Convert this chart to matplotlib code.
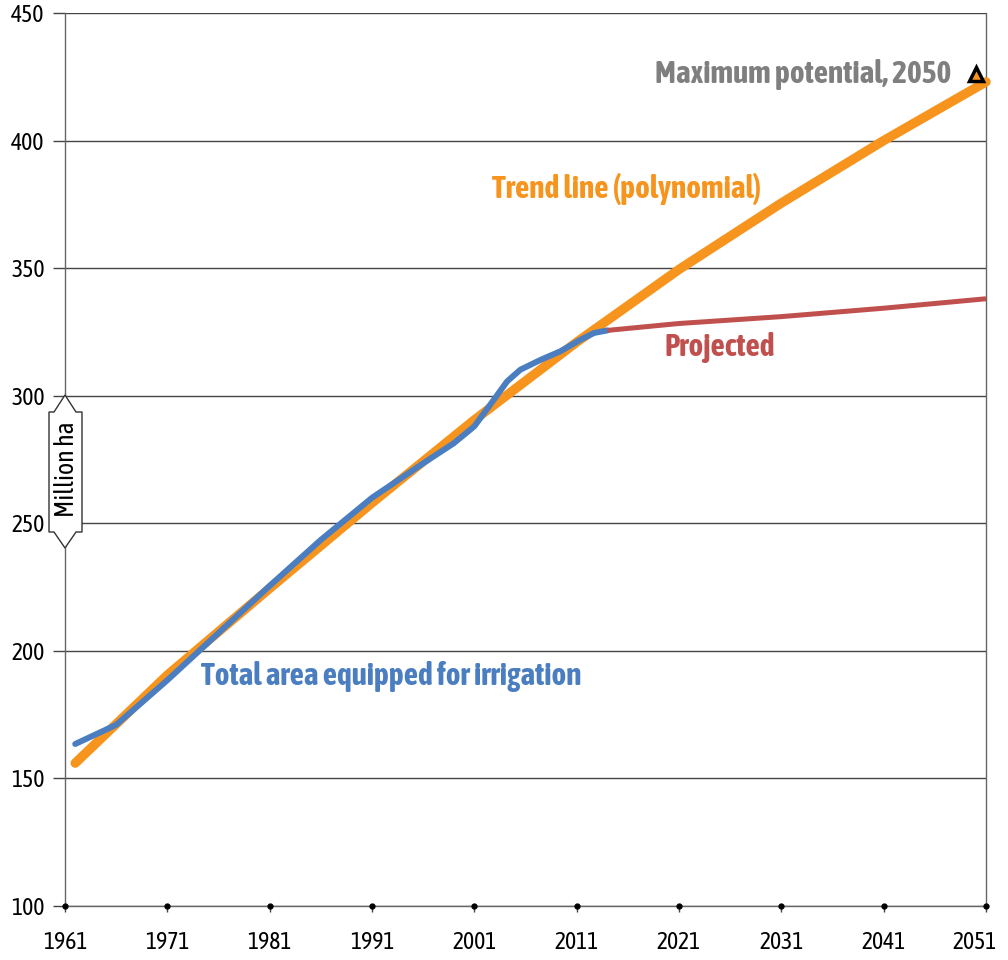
import matplotlib
matplotlib.use("Agg")
import matplotlib.pyplot as plt
from matplotlib.patches import Polygon
from matplotlib.transforms import ScaledTranslation

# ---------------- data ----------------
irr_years = [1962, 1966, 1971, 1976, 1981, 1986, 1991, 1996, 1999, 2001, 2002.9,
             2004.2, 2005.5, 2007.5, 2009.4, 2011.4, 2012.7, 2014]
irr_values = [163.5, 171, 188.5, 207, 225.5, 243.5, 260, 273.5, 281.4, 288.0, 298.4,
              305.6, 310.2, 314.1, 317.4, 322.0, 324.6, 325.6]

trend_years = [1962, 1971, 1981, 1991, 2001, 2011, 2021, 2031, 2041, 2051]
trend_values = [156, 190.5, 224.5, 258, 290.5, 321, 349.5, 375.5, 400, 423]

proj_years = [2014, 2021, 2031, 2041, 2051]
proj_values = [325.6, 328.3, 331.0, 334.3, 338]

max_pot_year = [2050]
max_pot_value = [426]

x_ticks = [1961, 1971, 1981, 1991, 2001, 2011, 2021, 2031, 2041, 2051]
y_ticks = [100, 150, 200, 250, 300, 350, 400, 450]

# ---------------- style ----------------
ORANGE = "#F7941D"
BLUE = "#4A7EC1"
RED = "#C0504D"
GRAY_TXT = "#7F7F7F"
GRID = "#444444"
FONT = ["Asap Condensed", "DejaVu Sans"]

plt.rcParams["font.family"] = FONT

W, H = 1008, 960
fig = plt.figure(figsize=(W / 100, H / 100), dpi=100)
L, R, T, B = 65, 986, 13, 906
ax = fig.add_axes([L / W, 1 - B / H, (R - L) / W, (B - T) / H])

ax.set_xlim(1961, 2051)
ax.set_ylim(100, 450)

ax.set_yticks(y_ticks)
ax.set_yticklabels([str(v) for v in y_ticks])
ax.set_xticks(x_ticks)
ax.set_xticklabels([str(v) for v in x_ticks])

ax.yaxis.grid(True, color=GRID, linewidth=1.0)
ax.set_axisbelow(True)
ax.tick_params(axis="y", length=8.6, width=1.0, color=GRID, pad=6,
               labelsize=17, labelcolor="black")
ax.tick_params(axis="x", length=4, width=1.0, color=GRID, pad=14,
               labelsize=17, labelcolor="black", direction="out")

# last x tick label shifted left to stay inside the picture
last = ax.get_xticklabels()[-1]
last.set_transform(last.get_transform() + ScaledTranslation(-11 / 100, 0, fig.dpi_scale_trans))

ax.spines["top"].set_visible(False)
for s in ["left", "right", "bottom"]:
    ax.spines[s].set_color("#666666")
    ax.spines[s].set_linewidth(1.0)

# tick dots on the bottom axis
ax.plot(x_ticks, [100] * len(x_ticks), "o", color="black", markersize=3.5,
        clip_on=False, zorder=5)

# lines
ax.plot(trend_years, trend_values, color=ORANGE, linewidth=6.8,
        solid_capstyle="round", solid_joinstyle="round", zorder=3, clip_on=False)
ax.plot(irr_years, irr_values, color=BLUE, linewidth=4.3,
        solid_capstyle="round", solid_joinstyle="round", zorder=4)
ax.plot(proj_years, proj_values, color=RED, linewidth=3.6,
        solid_capstyle="butt", zorder=4, clip_on=False)
ax.plot(max_pot_year, max_pot_value, marker="^", markersize=10,
        markerfacecolor=ORANGE, markeredgecolor="black", markeredgewidth=2.5,
        linestyle="none", zorder=6)

# labels
LS = 22.5
ax.text(2047.6, 426, "Maximum potential, 2050", color=GRAY_TXT, fontsize=LS,
        fontweight="bold", ha="right", va="center")
ax.text(2015.9, 381.2, "Trend line (polynomial)", color=ORANGE, fontsize=LS,
        fontweight="bold", ha="center", va="center")
ax.text(2025.0, 319.0, "Projected", color=RED, fontsize=LS,
        fontweight="bold", ha="center", va="center")
ax.text(1974.3, 190.0, "Total area equipped for irrigation", color=BLUE,
        fontsize=LS, fontweight="bold", ha="left", va="center")

# y-axis unit label in a double-arrow box (figure pixel coords)
pts = [(65, 395), (76, 412), (82, 412), (82, 532), (76, 532), (65, 548),
       (54, 532), (49, 532), (49, 412), (54, 412)]
pts_fig = [(x / W, 1 - y / H) for x, y in pts]
poly = Polygon(pts_fig, closed=True, facecolor="white", edgecolor="#333333",
               linewidth=1.0, transform=fig.transFigure, zorder=10)
fig.add_artist(poly)
fig.text(66 / W, 1 - 469 / H, "Million ha", rotation=90, ha="center",
         va="center", fontsize=18.5, color="black", zorder=11)

fig.savefig("out.png", dpi=100, facecolor="white")
